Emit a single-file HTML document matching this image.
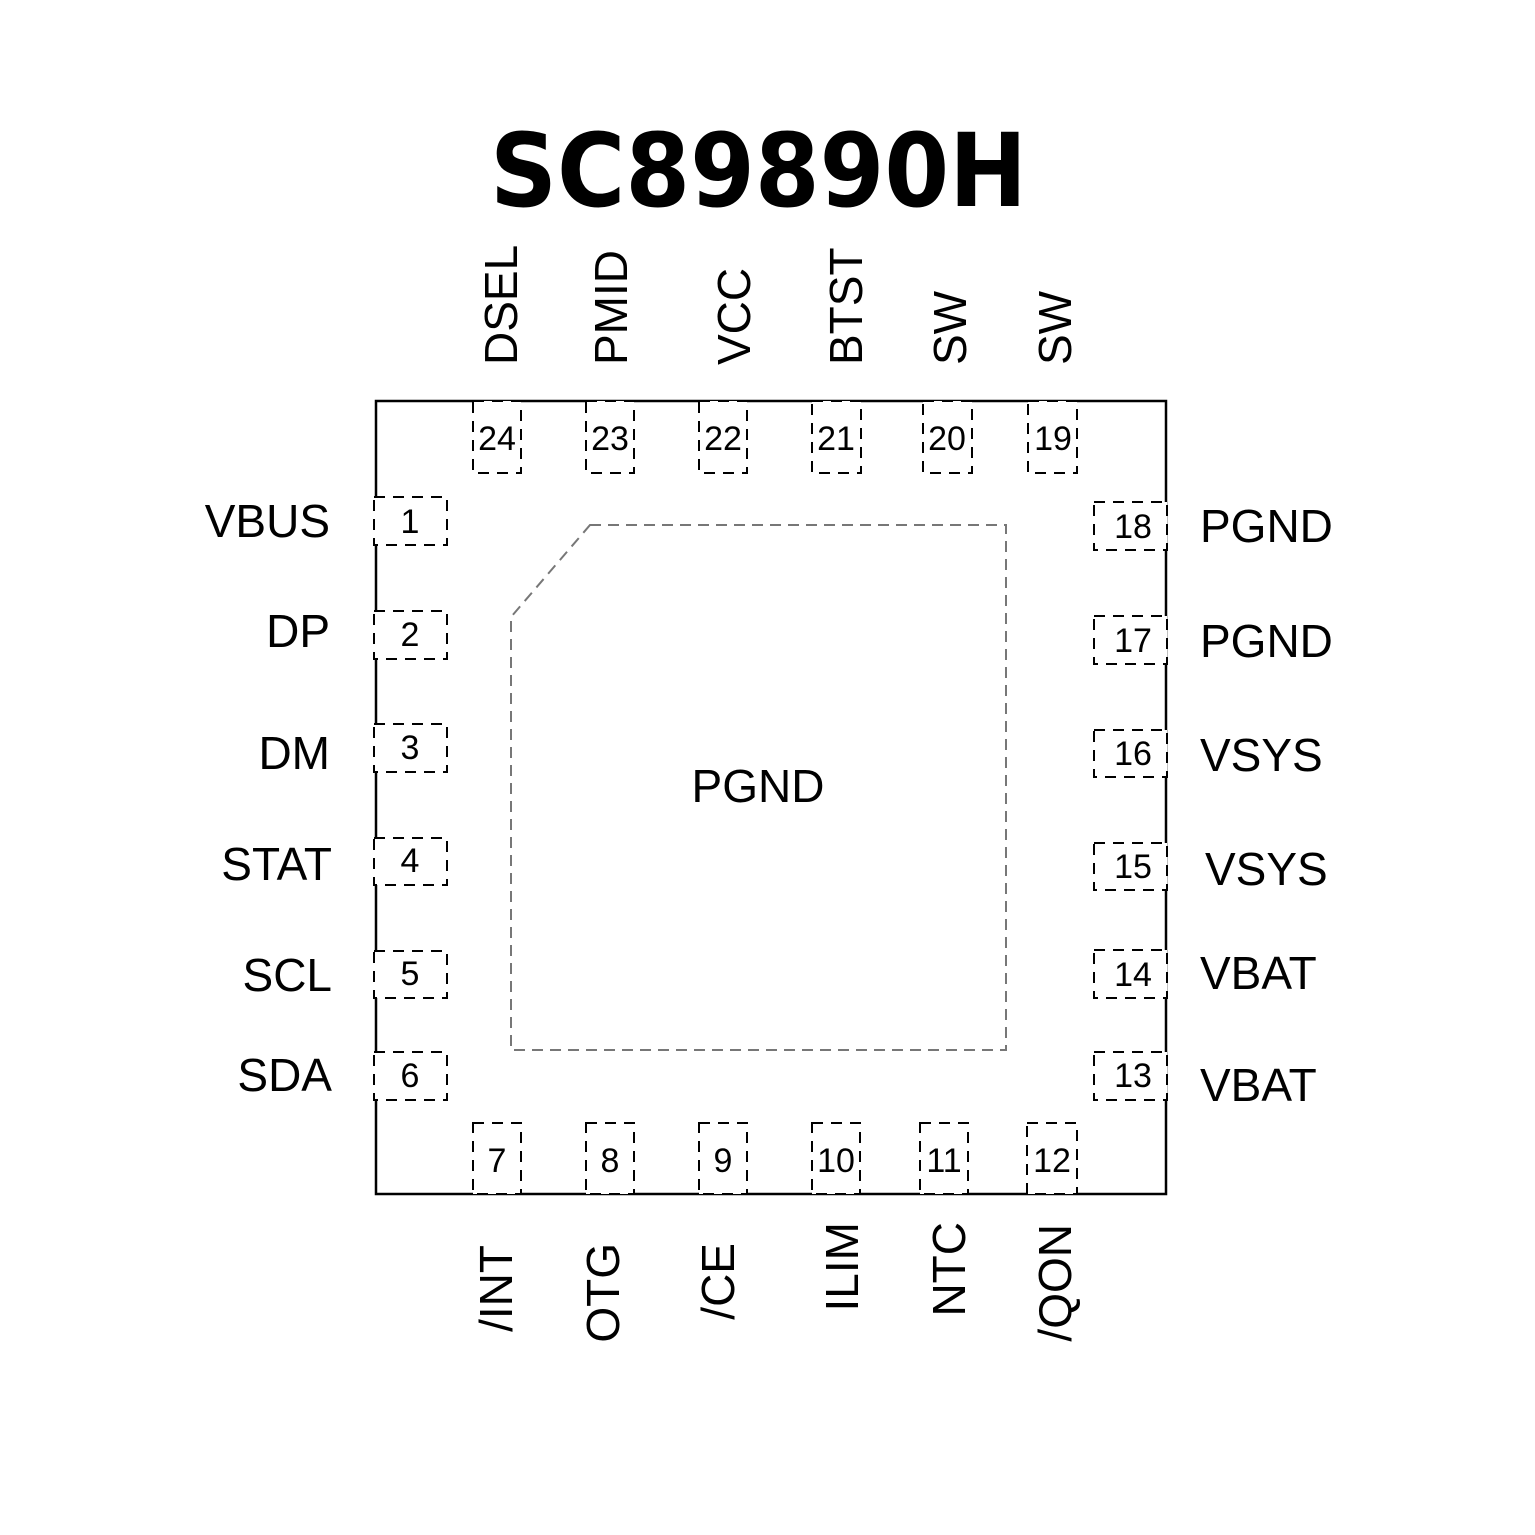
<!DOCTYPE html>
<html><head><meta charset="utf-8"><style>
html,body{margin:0;padding:0;background:#fff;}
svg{display:block;}
text{font-family:"Liberation Sans",Arial,sans-serif;fill:#000;}
</style></head><body>
<svg width="1535" height="1535" viewBox="0 0 1535 1535" xmlns="http://www.w3.org/2000/svg">
<text x="490" y="206" font-size="102" font-weight="bold" textLength="537" lengthAdjust="spacingAndGlyphs" style="font-family:'DejaVu Sans','Liberation Sans',sans-serif">SC89890H</text>
<rect x="376" y="401" width="790" height="793" fill="none" stroke="#000" stroke-width="2.5"/>
<polygon points="590,525 1006,525 1006,1050 511,1050 511,617" fill="none" stroke="#777" stroke-width="2" stroke-dasharray="11,7"/>
<g fill="#fff" stroke="#000" stroke-width="2" stroke-dasharray="11,8">
<rect x="473" y="401" width="48" height="72"/><rect x="586" y="401" width="48" height="72"/><rect x="699" y="401" width="48" height="72"/><rect x="812" y="401" width="49" height="72"/><rect x="923" y="401" width="49" height="72"/><rect x="1028" y="401" width="49" height="72"/>
<rect x="473" y="1123" width="48" height="71"/><rect x="586" y="1123" width="48" height="71"/><rect x="699" y="1123" width="48" height="71"/><rect x="812" y="1123" width="48" height="71"/><rect x="920" y="1123" width="48" height="71"/><rect x="1027" y="1123" width="50" height="71"/>
<rect x="374" y="497" width="73" height="48"/><rect x="374" y="611" width="73" height="48"/><rect x="374" y="724" width="73" height="48"/><rect x="374" y="838" width="73" height="47"/><rect x="374" y="951" width="73" height="47"/><rect x="374" y="1052" width="73" height="48"/>
<rect x="1094" y="502" width="73" height="48"/><rect x="1094" y="616" width="73" height="48"/><rect x="1094" y="730" width="73" height="47"/><rect x="1094" y="843" width="73" height="47"/><rect x="1094" y="950" width="73" height="48"/><rect x="1094" y="1052" width="73" height="48"/>
</g>
<g font-size="34" text-anchor="middle">
<text x="497" y="450">24</text><text x="610" y="450">23</text><text x="723" y="450">22</text><text x="836" y="450">21</text><text x="947" y="450">20</text><text x="1053" y="450">19</text>
<text x="497" y="1172">7</text><text x="610" y="1172">8</text><text x="723" y="1172">9</text><text x="836" y="1172">10</text><text x="944" y="1172">11</text><text x="1052" y="1172">12</text>
<text x="410" y="533">1</text><text x="410" y="646">2</text><text x="410" y="759">3</text><text x="410" y="872">4</text><text x="410" y="985">5</text><text x="410" y="1087">6</text>
<text x="1133" y="538">18</text><text x="1133" y="652">17</text><text x="1133" y="765">16</text><text x="1133" y="878">15</text><text x="1133" y="986">14</text><text x="1133" y="1087">13</text>
</g>
<g font-size="46">
<text x="330" y="537" text-anchor="end">VBUS</text>
<text x="330" y="647" text-anchor="end">DP</text>
<text x="330" y="769" text-anchor="end">DM</text>
<text x="332" y="880" text-anchor="end">STAT</text>
<text x="332" y="991" text-anchor="end">SCL</text>
<text x="332" y="1091" text-anchor="end">SDA</text>
<text x="1200" y="542">PGND</text>
<text x="1200" y="657">PGND</text>
<text x="1200" y="771">VSYS</text>
<text x="1205" y="885">VSYS</text>
<text x="1200" y="989">VBAT</text>
<text x="1200" y="1101">VBAT</text>
<text x="758" y="802" text-anchor="middle">PGND</text>
<text transform="translate(517,365) rotate(-90)">DSEL</text>
<text transform="translate(627,365) rotate(-90)">PMID</text>
<text transform="translate(750,365) rotate(-90)">VCC</text>
<text transform="translate(862,365) rotate(-90)">BTST</text>
<text transform="translate(966,365) rotate(-90)">SW</text>
<text transform="translate(1071,365) rotate(-90)">SW</text>
<text transform="translate(512,1245) rotate(-90)" text-anchor="end">/INT</text>
<text transform="translate(619,1243) rotate(-90)" text-anchor="end">OTG</text>
<text transform="translate(734,1243) rotate(-90)" text-anchor="end">/CE</text>
<text transform="translate(858,1222) rotate(-90)" text-anchor="end">ILIM</text>
<text transform="translate(965,1222) rotate(-90)" text-anchor="end">NTC</text>
<text transform="translate(1071,1224) rotate(-90)" text-anchor="end">/QON</text>
</g>
</svg>
</body></html>
